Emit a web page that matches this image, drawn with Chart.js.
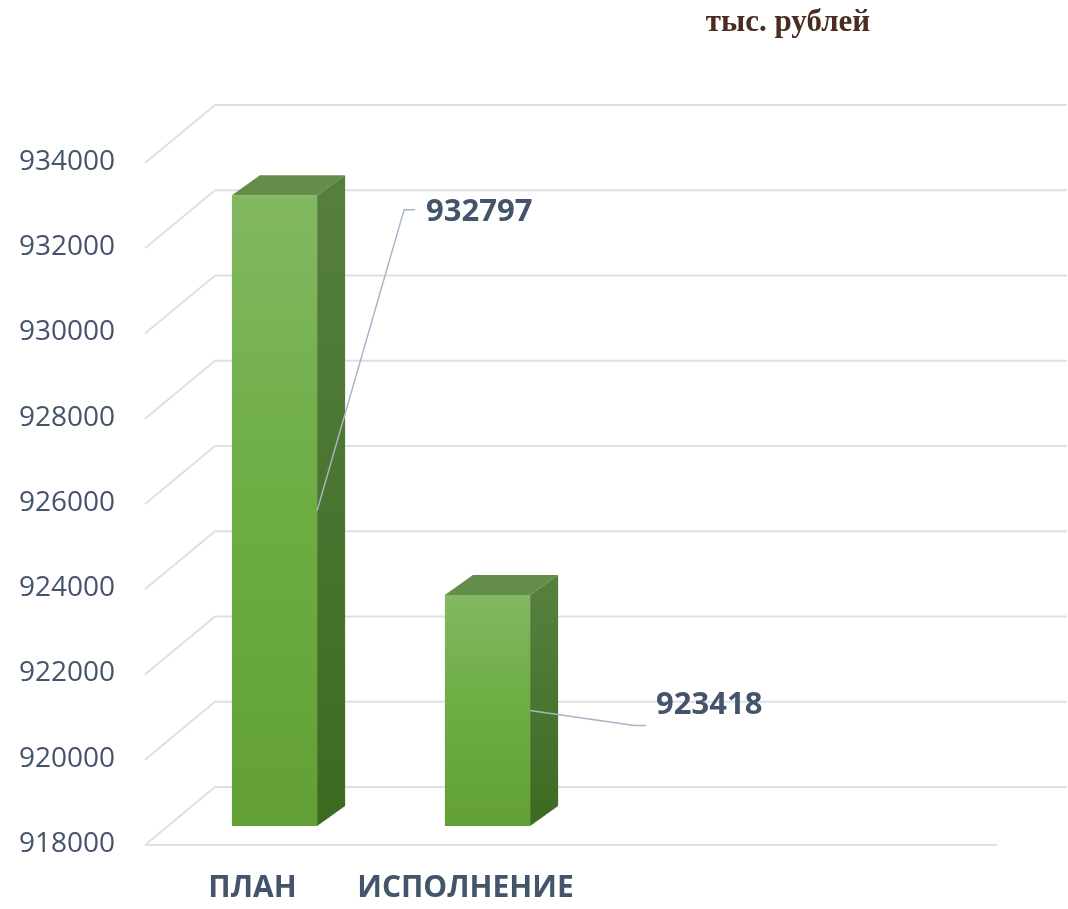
<!DOCTYPE html>
<html lang="ru">
<head>
<meta charset="utf-8">
<title>План и исполнение</title>
<script src="https://cdn.jsdelivr.net/npm/chart.js@4/dist/chart.umd.min.js"></script>
<style>
    html, body { margin: 0; padding: 0; background: #ffffff; }
    #chart { display: block; }
</style>
</head>
<body>
<canvas id="chart" width="1068" height="909"></canvas>
<script>
// Data
const categories = ['ПЛАН', 'ИСПОЛНЕНИЕ', '', ''];
const values = [932797, 923418, null, null];
const tickValues = [918000, 920000, 922000, 924000, 926000, 928000, 930000, 932000, 934000];
const unitTitle = 'тыс. рублей';

// Style / placement of the data labels (relative to bar's right front edge, middle height)
const labelPlacement = [
    { elbowX: 87, elbowY: -301, endX: 98, textX: 109, textY: -298 },
    { elbowX: 104, elbowY: 15, endX: 116, textX: 126, textY: -5 }
];

const textColor = '#44546a';
const gridColor = '#dde0e6';
// offsets of front and back planes from the bar plane
const front = { dx: -23, dy: 19 };
const back = { dx: 47, dy: -39 };
const depth = { dx: 28, dy: -20 };

// Draws the pseudo-3D walls/grid behind the bars
const gridPlugin = {
    id: 'grid3d',
    beforeDatasetsDraw(chart) {
        const { ctx, chartArea } = chart;
        const y = chart.scales.y;
        ctx.save();
        ctx.strokeStyle = gridColor;
        ctx.lineWidth = 2;
        tickValues.forEach(v => {
            const py = y.getPixelForValue(v);
            ctx.beginPath();
            ctx.moveTo(chartArea.left + front.dx, py + front.dy);
            ctx.lineTo(chartArea.left + back.dx, py + back.dy);
            ctx.lineTo(chartArea.right + back.dx, py + back.dy);
            ctx.stroke();
        });
        // floor front edge
        const base = y.getPixelForValue(tickValues[0]);
        ctx.beginPath();
        ctx.moveTo(chartArea.left + front.dx, base + front.dy);
        ctx.lineTo(chartArea.right + front.dx, base + front.dy);
        ctx.stroke();
        ctx.restore();
    }
};

// Top and side faces of the bars, data labels with leader lines, unit title
const barsPlugin = {
    id: 'bars3d',
    afterDatasetsDraw(chart) {
        const { ctx } = chart;
        const meta = chart.getDatasetMeta(0);
        const base = chart.scales.y.getPixelForValue(tickValues[0]);
        ctx.save();
        meta.data.forEach((bar, i) => {
            if (values[i] == null) return;
            const { x, y, width } = bar.getProps(['x', 'y', 'width'], true);
            const l = x - width / 2, r = x + width / 2;

            // top face
            ctx.fillStyle = '#638d49';
            ctx.beginPath();
            ctx.moveTo(l, y);
            ctx.lineTo(l + depth.dx, y + depth.dy);
            ctx.lineTo(r + depth.dx, y + depth.dy);
            ctx.lineTo(r, y);
            ctx.closePath();
            ctx.fill();

            // side face
            const g = ctx.createLinearGradient(0, y, 0, base);
            g.addColorStop(0, '#567f3e');
            g.addColorStop(1, '#3d6a21');
            ctx.fillStyle = g;
            ctx.beginPath();
            ctx.moveTo(r, y);
            ctx.lineTo(r + depth.dx, y + depth.dy);
            ctx.lineTo(r + depth.dx, base + depth.dy);
            ctx.lineTo(r, base);
            ctx.closePath();
            ctx.fill();
        });

        // data labels
        meta.data.forEach((bar, i) => {
            if (values[i] == null) return;
            const p = labelPlacement[i];
            const { x, y, width } = bar.getProps(['x', 'y', 'width'], true);
            const ax = x + width / 2;
            const ay = (y + base) / 2;
            ctx.strokeStyle = '#a7b5c8';
            ctx.lineWidth = 1.5;
            ctx.beginPath();
            ctx.moveTo(ax, ay);
            ctx.lineTo(ax + p.elbowX, ay + p.elbowY);
            ctx.lineTo(ax + p.endX, ay + p.elbowY);
            ctx.stroke();

            ctx.fillStyle = textColor;
            ctx.font = 'bold 31px "Open Sans"';
            ctx.textAlign = 'left';
            ctx.textBaseline = 'middle';
            ctx.fillText(String(values[i]), ax + p.textX, ay + p.textY);
        });

        // unit title
        ctx.fillStyle = '#4a2c20';
        ctx.font = 'bold 31px "Liberation Serif"';
        ctx.textAlign = 'center';
        ctx.textBaseline = 'alphabetic';
        ctx.fillText(unitTitle, 788, 31);
        ctx.restore();
    }
};

new Chart(document.getElementById('chart'), {
    type: 'bar',
    data: {
        labels: categories,
        datasets: [{
            data: values,
            barPercentage: 0.4,
            categoryPercentage: 1,
            backgroundColor: (c) => {
                const chart = c.chart;
                const v = c.raw;
                if (!chart.chartArea || v == null) return '#6eaa47';
                const ys = chart.scales.y;
                const top = ys.getPixelForValue(v);
                const bottom = ys.getPixelForValue(tickValues[0]);
                const g = chart.ctx.createLinearGradient(0, top, 0, bottom);
                g.addColorStop(0, '#82b862');
                g.addColorStop(0.45, '#6eae45');
                g.addColorStop(1, '#62a035');
                return g;
            }
        }]
    },
    options: {
        responsive: false,
        animation: false,
        layout: { padding: { top: 144, right: 48, bottom: 0, left: 0 } },
        plugins: {
            legend: { display: false },
            tooltip: { enabled: false },
            title: { display: false }
        },
        scales: {
            x: {
                grid: { display: false, drawTicks: false },
                border: { display: false },
                ticks: {
                    autoSkip: false,
                    maxRotation: 0,
                    padding: 44,
                    labelOffset: -22,
                    color: textColor,
                    font: { family: 'Open Sans', size: 30, weight: 'bold' }
                },
                afterFit(scale) { scale.height = 83; }
            },
            y: {
                min: tickValues[0],
                max: tickValues[tickValues.length - 1],
                grid: { display: false, drawTicks: false },
                border: { display: false },
                ticks: {
                    stepSize: tickValues[1] - tickValues[0],
                    padding: 53,
                    labelOffset: 18,
                    color: textColor,
                    font: { family: 'Open Sans', size: 28 },
                    callback: (v) => String(v)
                },
                afterFit(scale) { scale.width = 168; }
            }
        }
    },
    plugins: [gridPlugin, barsPlugin]
});
</script>
</body>
</html>
